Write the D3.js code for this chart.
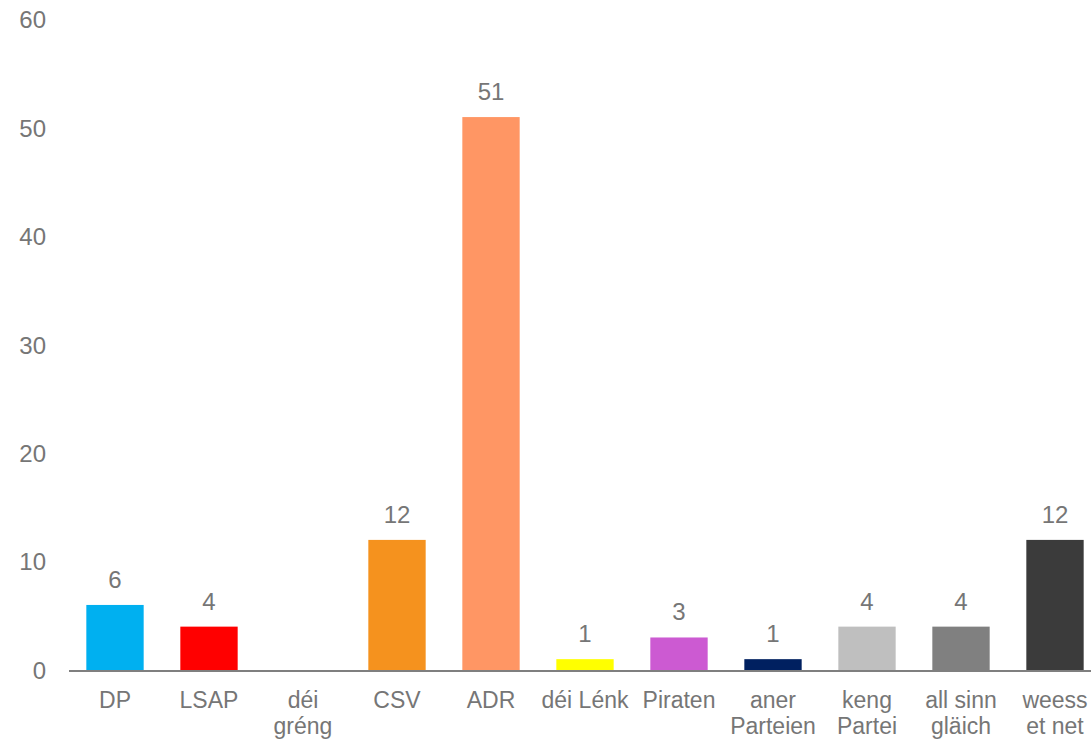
<!DOCTYPE html>
<html><head><meta charset="utf-8">
<script src="https://cdn.jsdelivr.net/npm/d3@7"></script>
<style>body{margin:0;background:#fff}svg{display:block}text{font-family:"Liberation Sans",Arial,sans-serif;fill:#767676}</style>
</head><body><svg id="c" width="1091" height="741"></svg>
<script>
const categories = [["DP"],["LSAP"],["déi","gréng"],["CSV"],["ADR"],["déi Lénk"],["Piraten"],["aner","Parteien"],["keng","Partei"],["all sinn","gläich"],["weess","et net"]];
const values = [6,4,0,12,51,1,3,1,4,4,12];
const colors = ["#00b0f0","#ff0000","#00a651","#f5921e","#ff9664","#ffff00","#cc5ad2","#002060","#bfbfbf","#808080","#3b3b3b"];
const yTicks = [0,10,20,30,40,50,60];

const svg = d3.select("#c");
const keys = categories.map(c => c.join(" "));
const x = d3.scaleBand().domain(keys).range([68,1102]).paddingInner(0.39).paddingOuter(0.195);
const y = d3.scaleLinear().domain([0,60]).range([670,19.5]);

const yAxis = svg.append("g").attr("transform","translate(46,0)")
  .call(d3.axisLeft(y).tickValues(yTicks).tickSize(0).tickPadding(0));
yAxis.select(".domain").remove();
yAxis.selectAll("text").style("font-size","24px").attr("fill","#767676").attr("dy","0.35em");

svg.append("g").selectAll("rect").data(values).join("rect")
  .attr("x",(d,i)=>x(keys[i])).attr("width",x.bandwidth())
  .attr("y",d=>y(d)).attr("height",d=>y(0)-y(d))
  .attr("fill",(d,i)=>colors[i]);

svg.append("line").attr("x1",69).attr("x2",1091).attr("y1",y(0)+1).attr("y2",y(0)+1)
  .attr("stroke","#7f7f7f").attr("stroke-width",2);

svg.append("g").selectAll("text").data(values.map((v,i)=>({v,i})).filter(d=>d.v>0)).join("text")
  .attr("x",d=>x(keys[d.i])+x.bandwidth()/2).attr("y",d=>y(d.v)-17)
  .attr("text-anchor","middle").style("font-size","24px").text(d=>d.v);

const xl = svg.append("g");
categories.forEach((lines,i)=>{
  const cx = x(keys[i])+x.bandwidth()/2;
  const t = xl.append("text").attr("x",cx).attr("y",708)
    .attr("text-anchor","middle").style("font-size","23px");
  lines.forEach((l,j)=>t.append("tspan").attr("x",cx).attr("dy",j?26:0).text(l));
});
</script></body></html>
